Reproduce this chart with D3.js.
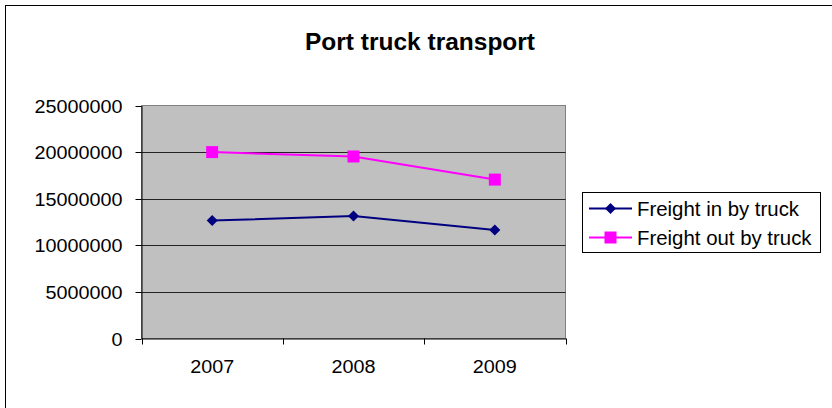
<!DOCTYPE html>
<html><head><meta charset="utf-8">
<script src="https://cdn.jsdelivr.net/npm/d3@7"></script>
<style>body{margin:0;background:#fff}svg{display:block}</style>
</head><body>
<script>
const title = "Port truck transport";
const categories = ["2007", "2008", "2009"];
const freightIn = [12650000, 13150000, 11650000];
const freightOut = [20000000, 19530000, 17050000];
const seriesNames = ["Freight in by truck", "Freight out by truck"];
const yTicks = [0, 5000000, 10000000, 15000000, 20000000, 25000000];

const W = 832, H = 408;
const font = "'Liberation Sans', Arial, sans-serif";
const svg = d3.select("body").append("svg").attr("width", W).attr("height", H);
svg.append("rect").attr("width", W).attr("height", H).attr("fill", "#fff");
svg.append("rect").attr("x", 5.5).attr("y", 5.5).attr("width", 860).attr("height", 440)
  .attr("fill", "none").attr("stroke", "#000").attr("stroke-width", 1);

const plot = {l: 141.5, r: 565.5, t: 105.5, b: 338.5};
const x = d3.scaleBand().domain(categories).range([plot.l, plot.r]);
const y = d3.scaleLinear().domain([0, 25000000]).range([plot.b, plot.t]);

svg.append("rect").attr("x", plot.l).attr("y", plot.t).attr("width", plot.r - plot.l).attr("height", plot.b - plot.t)
  .attr("fill", "#c0c0c0").attr("stroke", "#808080").attr("stroke-width", 1);

// gridlines
svg.append("g").selectAll("line").data(yTicks.filter(d => d > 0 && d < 25000000)).join("line")
  .attr("x1", plot.l).attr("x2", plot.r).attr("y1", d => Math.round(y(d)) + 0.5).attr("y2", d => Math.round(y(d)) + 0.5)
  .attr("stroke", "#222").attr("stroke-width", 1);

// y axis
const yAxis = svg.append("g").attr("transform", `translate(${plot.l},0)`)
  .call(d3.axisLeft(y).tickValues(yTicks).tickSize(6).tickSizeOuter(0).tickFormat(d3.format("d")).tickPadding(13));
yAxis.select(".domain").attr("stroke", "#000");
yAxis.selectAll(".tick line").attr("stroke", "#000");
yAxis.selectAll(".tick").attr("transform", d => `translate(0,${Math.round(y(d)) + 0.5})`);
yAxis.selectAll("text").attr("font-family", font).attr("font-size", 17.5).attr("fill", "#000")
  .attr("dy", "0.36em")
  .attr("textLength", function(d){ return String(d).length * 11; })
  .attr("lengthAdjust", "spacingAndGlyphs");

// x axis
const xAxis = svg.append("g").attr("transform", `translate(0,${plot.b})`)
  .call(d3.axisBottom(x).tickSize(0).tickSizeOuter(0).tickPadding(22));
xAxis.select(".domain").attr("stroke", "#000");
xAxis.selectAll("text").attr("font-family", font).attr("font-size", 17.5).attr("fill", "#000")
  .attr("textLength", 44).attr("lengthAdjust", "spacingAndGlyphs");
const bounds = [plot.l, ...categories.map(c => x(c) + x.bandwidth())];
svg.append("g").selectAll("line").data(bounds).join("line")
  .attr("x1", d => Math.round(d) + 0.5).attr("x2", d => Math.round(d) + 0.5)
  .attr("y1", plot.b).attr("y2", plot.b + 6).attr("stroke", "#000");

const cx = c => x(c) + x.bandwidth() / 2;
const line = d3.line().x((d, i) => cx(categories[i])).y(d => y(d));

svg.append("path").datum(freightIn).attr("d", line).attr("fill", "none").attr("stroke", "#000080").attr("stroke-width", 2);
svg.append("path").datum(freightOut).attr("d", line).attr("fill", "none").attr("stroke", "#ff00ff").attr("stroke-width", 2);

const diamond = (g, px, py) => g.append("path")
  .attr("d", `M${px},${py - 5.5}L${px + 5.5},${py}L${px},${py + 5.5}L${px - 5.5},${py}Z`).attr("fill", "#000080");
const square = (g, px, py) => g.append("rect").attr("x", px - 6).attr("y", py - 6).attr("width", 12).attr("height", 12).attr("fill", "#ff00ff");

const mk = svg.append("g");
freightIn.forEach((v, i) => diamond(mk, cx(categories[i]), y(v)));
freightOut.forEach((v, i) => square(mk, cx(categories[i]), y(v)));

// title
svg.append("text").attr("x", 420).attr("y", 50).attr("text-anchor", "middle")
  .attr("font-family", font).attr("font-weight", "bold").attr("font-size", 23).attr("fill", "#000")
  .attr("textLength", 230).attr("lengthAdjust", "spacingAndGlyphs").text(title);

// legend
const lg = svg.append("g");
lg.append("rect").attr("x", 582.5).attr("y", 192.5).attr("width", 238).attr("height", 60)
  .attr("fill", "#fff").attr("stroke", "#000").attr("stroke-width", 1);
const rows = [{n: seriesNames[0], c: "#000080", y: 208.5, m: diamond}, {n: seriesNames[1], c: "#ff00ff", y: 237.5, m: square}];
rows.forEach(r => {
  lg.append("line").attr("x1", 589).attr("x2", 632).attr("y1", r.y).attr("y2", r.y).attr("stroke", r.c).attr("stroke-width", 2);
  r.m(lg, 610.5, r.y);
  lg.append("text").attr("x", 637).attr("y", r.y + 7).attr("font-family", font).attr("font-size", 20.4).attr("fill", "#000").text(r.n);
});
</script>
</body></html>
